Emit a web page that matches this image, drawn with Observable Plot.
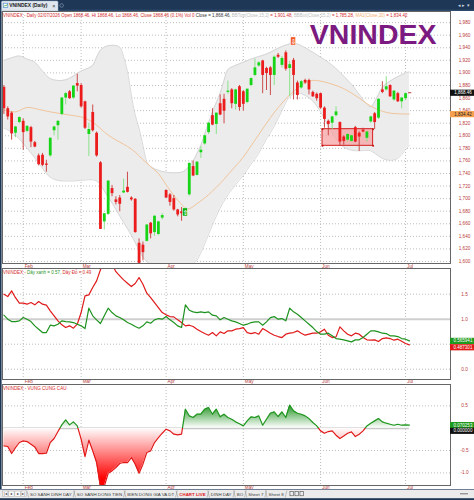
<!DOCTYPE html>
<html>
<head>
<meta charset="utf-8">
<script src="https://cdn.jsdelivr.net/npm/d3@7"></script>
<script src="https://cdn.jsdelivr.net/npm/@observablehq/plot@0.6"></script>
<style>
  html, body { margin: 0; padding: 0; background: #fff; }
  #root { position: relative; width: 474px; height: 500px; overflow: hidden; background: #fff; }
  #root > svg { position: absolute; left: 0; display: block; }
</style>
</head>
<body>
<div id="root"></div>
<script>
// ---------------- DATA ----------------
const lastDateLabel = "02/07/2026";
const monthLabels = ["Feb", "Mar", "Apr", "May", "Jun", "Jul"];
const monthStartBar = [5, 20, 42, 62, 82, 104];

const candleOpen = [1877,1843,1836,1804,1821,1823,1807,1813,1789,1768,
 1769,1755,1768,1808,1816,1834,1860,1870,1860,1883,
 1880,1854,1802,1837,1804,1757,1663,1675,1716,1698,
 1701,1709,1718,1701,1699,1629,1626,1632,1661,1646,
 1643,1669,1713,1706,1700,1682,1679,1675,1706,1751,
 1737,1773,1787,1805,1832,1818,1851,1858,1869,1873,
 1850,1878,1870,1853,1880,1896,1911,1919,1907,1908,
 1896,1928,1912,1932,1907,1920,1884,1876,1888,1888,
 1869,1866,1867,1844,1823,1820,1832,1821,1798,1793,
 1791,1813,1804,1809,1796,1822,1835,1828,1873,1873,
 1880,1857,1867,1854,1859,1868.46];
const candleHigh = [1880,1846,1838,1815,1830,1827,1816,1815,1791,1771,
 1772,1761,1797,1815,1824,1861,1869,1872,1880,1898,
 1883,1855,1820,1849,1806,1759,1676,1728,1721,1703,
 1705,1731,1742,1703,1700,1636,1631,1659,1662,1673,
 1664,1676,1714,1708,1705,1683,1686,1685,1757,1760,
 1759,1783,1801,1821,1843,1836,1865,1866,1887,1875,
 1874,1880,1872,1875,1892,1922,1918,1920,1909,1910,
 1927,1931,1926,1935,1918,1923,1887,1888,1890,1890,
 1871,1868,1868,1846,1825,1831,1846,1822,1800,1803,
 1801,1815,1806,1812,1807,1831,1837,1859,1886,1894,
 1881,1872,1869,1861,1868,1868.46];
const candleLow = [1834,1825,1793,1797,1819,1777,1805,1781,1781,1752,
 1751,1742,1766,1800,1793,1832,1849,1858,1858,1870,
 1844,1810,1767,1806,1766,1651,1650,1673,1703,1690,
 1679,1708,1709,1696,1645,1596,1601,1631,1636,1640,
 1641,1666,1700,1688,1680,1671,1664,1672,1704,1735,
 1736,1764,1785,1802,1816,1802,1832,1819,1866,1843,
 1841,1839,1839,1851,1878,1894,1909,1867,1872,1864,
 1880,1923,1908,1903,1862,1857,1857,1874,1882,1865,
 1861,1855,1842,1812,1800,1810,1830,1783,1785,1790,
 1790,1789,1775,1805,1790,1820,1810,1826,1867,1871,
 1861,1855,1853,1843,1856,1868.46];
const candleClose = [1843,1830,1803,1814,1829,1805,1815,1790,1782,1754,
 1753,1753,1796,1814,1823,1860,1867,1859,1879,1879,
 1846,1812,1810,1808,1768,1651,1676,1728,1708,1694,
 1691,1712,1710,1698,1646,1597,1614,1658,1644,1672,
 1663,1673,1701,1694,1682,1674,1676,1683,1756,1736,
 1758,1777,1800,1820,1817,1836,1833,1839,1871,1851,
 1873,1845,1850,1874,1891,1908,1916,1896,1899,1896,
 1925,1925,1923,1906,1913,1896,1864,1886,1884,1873,
 1862,1859,1844,1826,1818,1830,1838,1790,1791,1802,
 1800,1790,1798,1806,1806,1830,1821,1858,1869,1878,
 1862,1871,1854,1860,1867,1868.46];

// Bollinger bands (15,2), read at selected bars
const bbIdx = [0,2,4,6,8,10,12,14,16,18,20,22,23,24,25,26,28,30,31,32,33,34,35,36,37,38,40,42,44,46,47,48,49,50,51,52,54,56,57,58,60,62,64,66,68,70,72,74,76,78,80,82,84,86,88,90,92,94,95,96,97,98,100,102,104,105];
const bbTop = [1920,1924,1927,1922,1917,1903,1891,1888,1889,1895,1903,1908,1912,1925,1936,1941,1944,1941,1926,1902,1865,1833,1812,1785,1759,1751,1745,1742,1741,1742,1745,1752,1760,1772,1785,1803,1838,1868,1888,1905,1912,1917,1922,1926,1930,1936,1942,1946,1946,1940,1933,1925,1917,1907,1895,1882,1866,1850,1846,1854,1866,1877,1887,1894,1900,1901.48];
const bbBot = [1812,1806,1795,1780,1765,1748,1734,1729,1728,1728,1729,1730,1730,1728,1722,1712,1693,1672,1662,1652,1642,1630,1618,1607,1600,1594,1588,1585,1584,1586,1588,1592,1596,1602,1614,1628,1658,1685,1696,1706,1722,1737,1755,1772,1795,1815,1840,1862,1868,1864,1855,1838,1815,1795,1782,1777,1776,1777,1776,1772,1768,1764,1761,1764,1778,1785.28];

// MA(Close,20), read at selected bars
const maIdx = [0,3,6,9,12,15,18,20,22,24,26,28,30,32,34,36,38,40,42,44,46,47,48,50,52,54,56,58,60,62,64,66,68,70,72,74,76,78,80,82,84,86,88,90,92,94,96,98,100,102,104,105];
const maVal = [1841,1838,1845,1842,1838,1835,1832,1830,1825,1817,1806,1797,1790,1783,1774,1762,1751,1740,1722,1705,1691,1685,1684,1692,1701,1712,1724,1738,1752,1766,1784,1802,1820,1837,1852,1865,1876,1884,1888,1887,1884,1880,1875,1868,1860,1851,1844,1839,1836,1835,1834.6,1834.42];

// signals and zone box
const signalBar = [47, 75];
const signalType = ["buy", "sell"];
const signalPrice = [1678, 1950];
const zoneStartBar = [82.5], zoneEndBar = [95.6], zoneTop = [1810.5], zoneBottom = [1784];

const priceTicks = d3.range(1600, 1981, 20);

// Pane 2: "Dây xanh" (green) and "Dây Đỏ" (red)
const dayXanh = [1.08,1.00,0.953,0.953,0.967,1.033,1.0,0.953,0.867,0.80,
 0.733,0.733,0.88,0.867,0.90,0.967,0.953,0.947,0.933,0.90,
 0.867,0.813,1.22,1.067,0.987,0.913,1.067,1.22,1.133,1.067,
 1.033,0.987,0.933,0.90,0.853,0.82,0.867,0.947,0.92,0.987,
 1.013,1.0,1.053,0.987,0.933,0.867,0.833,1.287,1.18,1.147,
 1.133,1.147,1.133,1.147,1.08,1.067,0.987,1.033,1.0,0.967,
 0.947,0.913,0.88,0.90,0.933,0.947,0.947,0.88,0.947,1.033,
 1.053,1.0,1.013,0.967,1.22,1.147,1.10,1.033,0.967,0.90,
 0.833,0.753,0.70,0.70,0.72,0.667,0.613,0.60,0.587,0.567,
 0.547,0.587,0.587,0.633,0.70,0.767,0.767,0.747,0.72,0.713,
 0.667,0.667,0.653,0.613,0.60,0.566];
const dayDo = [1.50,1.453,1.567,1.43,1.32,1.32,1.30,1.333,1.287,1.353,
 1.30,1.28,1.167,1.067,0.967,0.887,0.833,0.867,0.82,0.90,
 1.133,1.467,1.487,1.633,1.767,1.99,2.2,2.3,2.1,1.95,
 1.867,1.787,1.72,1.653,1.713,1.833,1.70,1.52,1.433,1.333,
 1.233,1.133,1.087,1.053,1.047,0.987,0.933,0.867,0.88,0.853,
 0.80,0.753,0.713,0.68,0.733,0.667,0.747,0.713,0.767,0.767,
 0.80,0.813,0.833,0.733,0.713,0.733,0.70,0.813,0.767,0.72,
 0.68,0.653,0.633,0.70,0.72,0.733,0.767,0.72,0.68,0.70,
 0.72,0.72,0.747,0.80,0.68,0.633,0.647,0.847,0.767,0.70,
 0.667,0.72,0.70,0.633,0.587,0.58,0.587,0.553,0.613,0.627,
 0.613,0.58,0.60,0.56,0.513,0.487];
const pane2GridTicks = [1.5, 0.5, 0.0];
const pane2RefLevel = [1.0];
const pane2TickValues = [1.5, 1.0, 0.0];
const pane2TickLabels = ["1.5", "1.0", "0.0"];
const pane2BadgeLabels = ["0.565941", "0.487301"];

// Pane 3: "VUNG CUNG CAU"
const vungCungCau = [-0.395,-0.41,-0.567,-0.433,-0.32,-0.283,-0.30,-0.358,-0.418,-0.567,
 -0.567,-0.559,-0.32,-0.231,-0.075,0.075,0.186,0.075,0.142,0.052,
 -0.246,-0.634,-0.268,-0.507,-0.768,-1.32,-1.30,-1.007,-0.955,-0.88,
 -0.79,-0.768,-0.768,-0.656,-0.805,-1.007,-0.805,-0.544,-0.507,-0.32,
 -0.209,-0.112,-0.022,-0.06,-0.134,-0.149,-0.134,0.425,0.276,0.239,
 0.313,0.313,0.425,0.462,0.313,0.425,0.254,0.313,0.239,0.20,
 0.142,0.10,0.052,0.164,0.254,0.239,0.276,0.067,0.20,0.335,
 0.365,0.261,0.365,0.239,0.515,0.388,0.335,0.313,0.276,0.216,
 0.127,0.052,-0.06,-0.112,-0.075,-0.06,-0.157,-0.231,-0.172,-0.112,
 -0.082,-0.186,-0.134,-0.06,0.052,0.112,0.164,0.216,0.142,0.112,
 0.089,0.067,0.089,0.067,0.075,0.07];
const pane3GridTicks = [0.5, -0.5, -1.0];
const pane3TickValues = [0.5, -0.5, -1.0];
const pane3TickLabels = ["0.5", "-0.5", "-1.0"];
const pane3BadgeLabels = ["0.070253", "0.000000"];

const sheetTabs = ["SO SANH DINH DAY", "SO SANH DONG TIEN", "BIEN DONG GIA VA DT", "CHART LIVE", "DINH DAY", "BO", "Sheet 7", "Sheet 8"];
const activeSheet = "CHART LIVE";

// ---------------- LAYOUT / STYLE ----------------
const FONT = "'Liberation Sans', Arial, sans-serif";
const W = 474;
const xDomain = [-0.3625, 115.64];
const pxPerBar = 448 / (xDomain[1] - xDomain[0]);
const badgeBars = 24 / pxPerBar;
const AXIS_RED = "#b83a3a";
const GRID = "#bcbcbc";
const GREEN = "#16d416", RED = "#ec1c1c";
const root = document.getElementById("root");
const nBars = candleClose.length;

const bars = d3.range(nBars).map(i => ({i, o: candleOpen[i], h: candleHigh[i], l: candleLow[i], c: candleClose[i]}));
const realBars = bars.filter(d => d.h > d.l);
const flatBars = bars.filter(d => d.h === d.l);
const bb = bbIdx.map((i, k) => ({i, top: bbTop[k], bot: bbBot[k]}));
const ma = maIdx.map((i, k) => ({i, v: maVal[k]}));
const months = monthStartBar.map((i, k) => ({i, label: monthLabels[k]}));
const signals = signalBar.map((i, k) => ({i, type: signalType[k], price: signalPrice[k]}));
const zones = zoneStartBar.map((s, k) => ({s, e: zoneEndBar[k], t: zoneTop[k], b: zoneBottom[k]}));
const zoneCorners = zones.flatMap(z => [{x: z.s, y: z.t}, {x: z.e, y: z.t}, {x: z.s, y: z.b}, {x: z.e, y: z.b}]);
const up = d => d.c >= d.o;

const lastBar = bars[nBars - 1];
const prevClose = candleClose[nBars - 2];
const maLast = maVal[maVal.length - 1];
const bbTopLast = bbTop[bbTop.length - 1];
const bbBotLast = bbBot[bbBot.length - 1];
const f2 = d3.format(".2f"), fc2 = d3.format(",.2f");

const baseStyle = {background: "transparent", fontFamily: FONT, fontSize: "5px", overflow: "visible"};

function place(el, top) {
  const svg = el.tagName.toLowerCase() === "svg" ? el : el.querySelector("svg");
  svg.style.position = "absolute";
  svg.style.left = "0px";
  svg.style.top = top + "px";
  root.appendChild(svg);
  return svg;
}
function richText(svg, x, y, parts, size) {
  const ns = "http://www.w3.org/2000/svg";
  const t = document.createElementNS(ns, "text");
  t.setAttribute("x", x); t.setAttribute("y", y);
  t.setAttribute("font-size", size); t.setAttribute("font-family", FONT);
  t.setAttribute("text-anchor", "start");
  t.setAttribute("style", "white-space:pre");
  for (const [s, c] of parts) {
    const ts = document.createElementNS(ns, "tspan");
    ts.setAttribute("fill", c); ts.textContent = s; t.appendChild(ts);
  }
  svg.appendChild(t);
}
function rightLabels(values, labels) {
  return Plot.text(values, {x: () => xDomain[1], y: d => d, text: (d, k) => labels[k], dx: 14, fill: AXIS_RED, fontSize: 4.7});
}
function monthText(yMin, dy) {
  return Plot.text(months, {x: "i", y: () => yMin, text: "label", textAnchor: "start", dx: 1.5, dy, fill: AXIS_RED, fontSize: 4.7});
}
function badge(v, label, bg, fg, dy) {
  return [
    Plot.ruleY([v], {y: d => d, x1: () => xDomain[1], x2: () => xDomain[1] + badgeBars, stroke: bg, strokeWidth: 6.2, dy}),
    Plot.text([v], {y: d => d, x: () => xDomain[1], text: () => label, dx: 12.5, dy, fill: fg, fontSize: 4.5})
  ];
}

// ---------------- TOP TAB BAR ----------------
const topBar = d3.create("svg").attr("width", W).attr("height", 11).attr("font-family", FONT).node();
topBar.innerHTML = `
<rect width="474" height="11" fill="#1e3757"/>
<rect y="9.6" width="474" height="1.4" fill="#2d4a6d"/>
<path d="M1.5 11 V2.2 Q1.5 1 2.7 1 H56.8 Q58 1 58 2.2 V11 Z" fill="#dfe6ee" stroke="#a3b5c9" stroke-width="0.5"/>
<rect x="3.2" y="3.2" width="4.6" height="4.3" fill="#fff" stroke="#3b7fc4" stroke-width="0.6"/>
<path d="M3.7 6.8 L5.1 5.1 L6.1 6.1 L7.4 4.1" stroke="#2a9a2a" stroke-width="0.6" fill="none"/>
<text x="9.3" y="7.4" font-size="4.9" font-weight="bold" fill="#1a1a1a">VNINDEX (Daily)</text>
<text x="52.3" y="7.6" font-size="5.4" fill="#333">×</text>
<circle cx="61.6" cy="5.5" r="1.8" fill="none" stroke="#8da2b8" stroke-width="0.6"/>
<text x="458" y="7.3" font-size="4.5" fill="#c9d3de">◂ ▸ ▾</text>`;
place(topBar, 0);

// ---------------- MAIN PRICE PANE ----------------
const yMainDomain = [1596.8, 1997.7];
const mainPlot = Plot.plot({
  width: W, height: 257, marginTop: 0, marginBottom: 5, marginLeft: 2, marginRight: 24,
  x: {domain: xDomain, axis: null},
  y: {domain: yMainDomain, axis: null},
  color: {type: "identity"},
  style: baseStyle,
  marks: [
    Plot.ruleY(priceTicks, {stroke: GRID, strokeDasharray: "1,2"}),
    Plot.ruleX(months, {x: "i", stroke: GRID, strokeDasharray: "1,2"}),
    Plot.areaY(bb, {x: "i", y1: "bot", y2: "top", fill: "#ececec", curve: "catmull-rom", clip: true}),
    Plot.line(bb, {x: "i", y: "top", stroke: "#cfcfcf", strokeWidth: 0.8, curve: "catmull-rom", clip: true}),
    Plot.line(bb, {x: "i", y: "bot", stroke: "#cfcfcf", strokeWidth: 0.8, curve: "catmull-rom", clip: true}),
    Plot.line(ma, {x: "i", y: "v", stroke: "#f1c59c", strokeWidth: 1, curve: "catmull-rom", clip: true}),
    Plot.rect(zones, {x1: "s", x2: "e", y1: "b", y2: "t", fill: "#f5a3a3", fillOpacity: 0.75, stroke: "#d42020", strokeWidth: 1}),
    Plot.dot(zoneCorners, {x: "x", y: "y", r: 1, fill: "#c01010"}),
    Plot.ruleX(realBars, {x: "i", y1: "l", y2: "h", stroke: d => up(d) ? "#7fe07f" : "#c83a3a", strokeWidth: 0.9, clip: true}),
    Plot.ruleX(realBars, {x: "i", y1: "o", y2: "c", stroke: d => up(d) ? GREEN : RED, strokeWidth: 2.8, clip: true}),
    Plot.ruleY(flatBars, {y: "c", x1: d => d.i - 0.2, x2: d => d.i + 0.6, stroke: "#b33"}),
    Plot.rect(signals, {x1: d => d.i - 0.65, x2: d => d.i + 0.65, y1: d => d.price - 6.5, y2: d => d.price + 6.5,
      fill: d => d.type === "buy" ? "#10b010" : "#f05a28", stroke: "#fff", strokeWidth: 0.5}),
    Plot.text(signals, {x: "i", y: "price", text: d => d.type === "buy" ? "⇧" : "⇩", fill: "#fff", fontSize: 6.5, fontWeight: "bold", fontFamily: "DejaVu Sans"}),
    Plot.text(["VNINDEX"], {text: d => d, frameAnchor: "top-right", textAnchor: "end", lineAnchor: "top", dx: -14, dy: 12,
      fontSize: 28.5, fontWeight: "bold", fill: "#7b1a80", fontFamily: FONT}),
    rightLabels(priceTicks, priceTicks.map(d3.format(","))),
    monthText(yMainDomain[0], 2.6),
    Plot.frame({stroke: "#666"}),
    ...badge(lastBar.c, fc2(lastBar.c), "#111", "#fff", 0),
    ...badge(maLast, fc2(maLast), "#f5a04e", "#222", 0)
  ]
});
const mainSvg = place(mainPlot, 11);
richText(mainSvg, 3, 6.4, [
  [`VNINDEX - Daily ${lastDateLabel} Open ${f2(lastBar.o)}, Hi ${f2(lastBar.h)}, Lo ${f2(lastBar.l)}, Close ${f2(lastBar.c)} (${((lastBar.c - prevClose) / prevClose * 100).toFixed(1)}%) Vol 0 `, "#d42a2a"],
  [`Close = ${fc2(lastBar.c)}, `, "#333"],
  [`BBTop(Close,15,2) `, "#bdbdbd"],
  [`= ${fc2(bbTopLast)}, `, "#d42a2a"],
  [`BBBot(Close,15,2) `, "#bdbdbd"],
  [`= ${fc2(bbBotLast)}, `, "#d42a2a"],
  [`MA1(Close,20) `, "#f0b070"],
  [`= ${fc2(maLast)}`, "#d42a2a"]
], 4.45);

// ---------------- PANE 2 ----------------
const p2Domain = [-0.206, 2.014];
const p2Green = dayXanh.map((v, i) => ({i, v}));
const p2Red = dayDo.map((v, i) => ({i, v}));
const pane2 = Plot.plot({
  width: W, height: 116, marginTop: 0, marginBottom: 5, marginLeft: 2, marginRight: 24,
  x: {domain: xDomain, axis: null},
  y: {domain: p2Domain, axis: null},
  color: {type: "identity"},
  style: baseStyle,
  marks: [
    Plot.ruleY(pane2GridTicks, {stroke: GRID, strokeDasharray: "1,2"}),
    Plot.ruleX(months, {x: "i", stroke: GRID, strokeDasharray: "1,2"}),
    Plot.ruleY(pane2RefLevel, {stroke: "#cfcfcf", strokeWidth: 2}),
    Plot.line(p2Red, {x: "i", y: "v", stroke: "#e01a1a", strokeWidth: 1.2, clip: true}),
    Plot.line(p2Green, {x: "i", y: "v", stroke: "#1e921e", strokeWidth: 1.2, clip: true}),
    rightLabels(pane2TickValues, pane2TickLabels),
    monthText(p2Domain[0], 2.4),
    Plot.frame({stroke: "#666"}),
    ...badge(dayXanh[nBars - 1], pane2BadgeLabels[0], "#1e9a1e", "#fff", 0),
    ...badge(dayDo[nBars - 1], pane2BadgeLabels[1], "#e01818", "#fff", 2.4)
  ]
});
const p2Svg = place(pane2, 268);
richText(p2Svg, 3, 5.9, [
  ["VNINDEX - ", "#d42a2a"],
  [`Dây xanh = ${dayXanh[nBars - 1].toFixed(2)}, `, "#1e921e"],
  [`Dây Đỏ = ${dayDo[nBars - 1].toFixed(2)}`, "#d42a2a"]
], 4.5);

// ---------------- PANE 3 ----------------
const p3Domain = [-1.282, 0.978];
const cc = vungCungCau.map((v, i) => ({i, v}));
const pane3 = Plot.plot({
  width: W, height: 105, marginTop: 0, marginBottom: 4, marginLeft: 2, marginRight: 24,
  x: {domain: xDomain, axis: null},
  y: {domain: p3Domain, axis: null},
  color: {type: "identity"},
  style: baseStyle,
  marks: [
    Plot.ruleY(pane3GridTicks, {stroke: GRID, strokeDasharray: "1,2"}),
    Plot.ruleX(months, {x: "i", stroke: GRID, strokeDasharray: "1,2"}),
    Plot.ruleY([0], {y: d => d, x1: () => 0, x2: () => nBars - 1, stroke: "#c8c8c8", strokeWidth: 2}),
    Plot.areaY(cc, {x: "i", y1: () => 0, y2: "v", fill: "url(#ccFill)", clip: true}),
    Plot.line(cc, {x: "i", y: "v", stroke: "url(#ccStroke)", strokeWidth: 1.2, clip: true}),
    rightLabels(pane3TickValues, pane3TickLabels),
    monthText(p3Domain[0], 2.3),
    Plot.frame({stroke: "#666"}),
    ...badge(vungCungCau[nBars - 1], pane3BadgeLabels[0], "#1e9a1e", "#fff", 0),
    ...badge(0, pane3BadgeLabels[1], "#111", "#fff", 2.6)
  ]
});
const p3Svg = place(pane3, 384);
{
  const ys = pane3.scale("y");
  const pTop = ys.apply(p3Domain[1]), pBot = ys.apply(p3Domain[0]);
  const off = v => ((ys.apply(v) - pTop) / (pBot - pTop)).toFixed(4);
  p3Svg.insertAdjacentHTML("afterbegin", `<defs>
    <linearGradient id="ccFill" gradientUnits="userSpaceOnUse" x1="0" y1="${pTop}" x2="0" y2="${pBot}">
      <stop offset="${off(0.55)}" stop-color="#148c14"/>
      <stop offset="${off(0)}" stop-color="#ffffff"/>
      <stop offset="${off(-1.15)}" stop-color="#ff0000"/>
    </linearGradient>
    <linearGradient id="ccStroke" gradientUnits="userSpaceOnUse" x1="0" y1="${pTop}" x2="0" y2="${pBot}">
      <stop offset="0" stop-color="#1e961e"/>
      <stop offset="${off(0)}" stop-color="#1e961e"/>
      <stop offset="${off(0)}" stop-color="#e01818"/>
      <stop offset="1" stop-color="#e01818"/>
    </linearGradient></defs>`);
}
richText(p3Svg, 3, 6.3, [["VNINDEX - VUNG CUNG CAU", "#d42a2a"]], 4.6);

// ---------------- BOTTOM SHEET BAR ----------------
const bottom = d3.create("svg").attr("width", W).attr("height", 11).attr("font-family", FONT);
bottom.append("rect").attr("width", W).attr("height", 11).attr("fill", "#1e3757");
bottom.append("rect").attr("y", 0.6).attr("width", W).attr("height", 8.6).attr("fill", "#ebebeb");
const navGlyphs = ["|◂", "◂", "▸", "▸|"];
navGlyphs.forEach((g, k) => {
  bottom.append("rect").attr("x", 2.5 + k * 6.2).attr("y", 2).attr("width", 5.4).attr("height", 5.6)
    .attr("fill", "#f8f8f8").attr("stroke", "#9a9a9a").attr("stroke-width", 0.4);
  bottom.append("text").attr("x", 5.2 + k * 6.2).attr("y", 6.4).attr("text-anchor", "middle")
    .attr("font-size", 3.6).attr("fill", "#333").text(g);
});
const bottomSvg = place(bottom.node(), 489);
let tx = 30;
for (const name of sheetTabs) {
  const active = name === activeSheet;
  const t = bottom.append("text").attr("x", tx).attr("y", 6.6).attr("font-size", 4.4)
    .attr("font-weight", active ? "bold" : "normal").attr("fill", active ? "#e0161a" : "#3c3c3c").text(name);
  const w = t.node().getComputedTextLength();
  bottom.append("path").attr("d", `M${tx - 3.2} 1.5 L${tx - 1.4} 8.4`).attr("stroke", "#8a8a8a").attr("stroke-width", 0.5);
  bottom.append("path").attr("d", `M${tx + w + 1.4} 8.4 L${tx + w + 3.2} 1.5`).attr("stroke", "#8a8a8a").attr("stroke-width", 0.5);
  tx += w + 5.2;
}
["#333", "#333", "#333"].forEach((c, k) => {
  bottom.append("rect").attr("x", tx + 1 + k * 5).attr("y", 2.6).attr("width", 3.4).attr("height", 4.2)
    .attr("fill", "none").attr("stroke", c).attr("stroke-width", 0.5);
});
bottom.append("path").attr("d", "M460 4.8 H468").attr("stroke", "#555").attr("stroke-width", 0.8);

// left window border
const border = d3.create("svg").attr("width", 2).attr("height", 478).node();
border.innerHTML = `<rect width="1.6" height="478" fill="#1e3757"/>`;
place(border, 11);
</script>
</body>
</html>
